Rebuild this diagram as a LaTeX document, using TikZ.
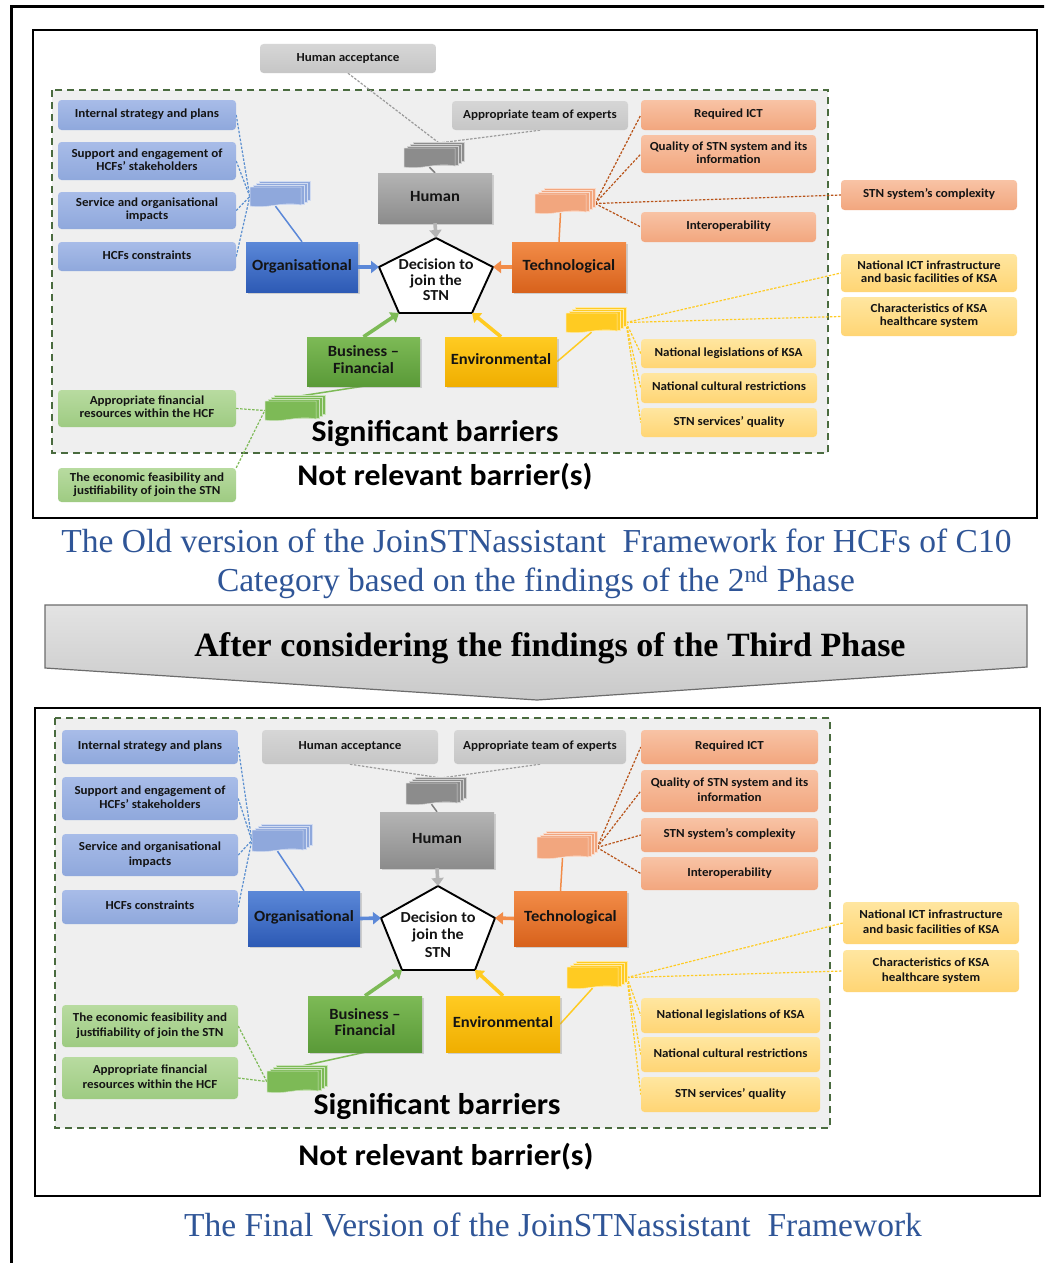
\documentclass[tikz,border=0pt]{standalone}
\usepackage{fontspec}
\setmainfont{Liberation Serif}
\newfontfamily\calf{Carlito}
\usetikzlibrary{arrows.meta,calc,shadows}
\pgfdeclarelayer{back}\pgfdeclarelayer{mid}\pgfsetlayers{back,mid,main}
\definecolor{txt}{HTML}{141414}
\definecolor{capblue}{HTML}{2F5597}
\definecolor{lb1}{HTML}{A8BCE8}\definecolor{lb2}{HTML}{8FA8DC}
\definecolor{mb1}{HTML}{5B88D8}\definecolor{mb2}{HTML}{2D5AB5}
\definecolor{lg1}{HTML}{D6D6D6}\definecolor{lg2}{HTML}{C6C6C6}
\definecolor{mg1}{HTML}{B4B4B4}\definecolor{mg2}{HTML}{8C8C8C}
\definecolor{lo1}{HTML}{F8C3A5}\definecolor{lo2}{HTML}{F2A67E}
\definecolor{mo1}{HTML}{F28C48}\definecolor{mo2}{HTML}{D8621C}
\definecolor{ly1}{HTML}{FFE6A0}\definecolor{ly2}{HTML}{FFD574}
\definecolor{my1}{HTML}{FFCB22}\definecolor{my2}{HTML}{F0AE00}
\definecolor{lgr1}{HTML}{B8DBA0}\definecolor{lgr2}{HTML}{9ECB82}
\definecolor{mgr1}{HTML}{7DBA56}\definecolor{mgr2}{HTML}{5A9A38}
\definecolor{dashg}{HTML}{4A6B3F}
\definecolor{areabg}{HTML}{EFEFEF}
\definecolor{dotgray}{HTML}{9A9A9A}
\definecolor{dotblue}{HTML}{5B8FD0}
\newcommand\tx[1]{\scalebox{1.06}[1]{\begin{tabular}{@{}c@{}}#1\end{tabular}}}
\newcommand\bx[7]{%
  \pgfmathsetmacro\cxx{(#3+#5)/2}\pgfmathsetmacro\cyy{(#4+#6)/2}%
  \pgfmathsetmacro\www{#5-#3}\pgfmathsetmacro\hhh{#6-#4}%
  \node[#1, minimum width=\www pt, minimum height=\hhh pt] (#2) at (\cxx,\cyy) {\tx{#7}};}
\newcommand\mystack[5]{%
  \foreach \k in {3,2,1}{\path[fill=#4, draw=white!60!#4, line width=0.5pt] (#2+3.2*\k,#3-1.8*\k) rectangle ++(51,#5);}
  \path[fill=#4, draw=white!60!#4, line width=0.5pt] (#2,#3) -- ++(51,0) -- ++(0,#5-1) .. controls +(-18,-4) and +(18,3) .. (#2,#3+#5) -- cycle;
  \node[inner sep=0pt, minimum width=51pt, minimum height=#5pt] (#1) at (#2+25.5,#3+#5/2) {};
  \coordinate (#1-r) at (#2+60,#3+#5/2);
  \coordinate (#1-t) at (#2+35,#3-5);
}
\tikzset{
  sbox/.style={rounded corners=3.5pt, inner sep=0pt, text=txt, font=\calf\bfseries\fontsize{12.3}{12.9}\selectfont},
  sboxB/.style={sbox, font=\calf\bfseries\fontsize{12.3}{14.8}\selectfont},
  lblue/.style={top color=lb1, bottom color=lb2},
  lgray/.style={top color=lg1, bottom color=lg2},
  lor/.style={top color=lo1, bottom color=lo2},
  lyel/.style={top color=ly1, bottom color=ly2},
  lgrn/.style={top color=lgr1, bottom color=lgr2},
  mbox/.style={inner sep=0pt, text=txt, font=\calf\bfseries\fontsize{15.6}{16.5}\selectfont,
    drop shadow={opacity=0.3, shadow xshift=1.5pt, shadow yshift=-1.5pt}},
  mblue/.style={mbox, top color=mb1, bottom color=mb2},
  mgray/.style={mbox, top color=mg1, bottom color=mg2},
  mor/.style={mbox, top color=mo1, bottom color=mo2},
  myel/.style={mbox, top color=my1, bottom color=my2},
  mgrn/.style={mbox, top color=mgr1, bottom color=mgr2},
  area/.style={fill=areabg, draw=dashg, line width=1.6pt, dash pattern=on 7pt off 5pt},
  frame/.style={draw=black, line width=2.6pt},
  dotc/.style={line width=1.2pt, dash pattern=on 2.5pt off 1.5pt},
  solc/.style={line width=1.5pt},
  bigarr/.style={line width=3.6pt, -{Triangle[length=8pt,width=12pt]}},
  pent/.style={draw=black, fill=white, line width=1.9pt, line join=miter},
  dect/.style={inner sep=0pt, text=txt, font=\calf\bfseries\fontsize{15.3}{15.6}\selectfont},
  sigt/.style={inner sep=0pt, text=black, font=\calf\bfseries\fontsize{30}{30}\selectfont},
  capt/.style={inner sep=0pt, text=capblue, font=\fontsize{33.5}{36}\selectfont},
}
\begin{document}
\begin{tikzpicture}[x=1pt,y=-1pt]
\useasboundingbox (0,0) rectangle (1044,1263);
\begin{pgfonlayer}{back}
\fill[white] (0,0) rectangle (1044,1263);
\end{pgfonlayer}
\clip (0,0) rectangle (1044,1263);
\draw[line width=3pt] (11,7) rectangle (1100,1300);

% ================= PANEL 1 =================
\draw[frame] (33,30) rectangle (1037,518);
\begin{pgfonlayer}{back}
\path[area] (52,90) rectangle (828,453);
\end{pgfonlayer}

\bx{sbox,lgray}{ha1}{260}{44}{436}{73}{Human acceptance}
\bx{sbox,lgray}{at1}{452}{101}{628}{130}{Appropriate team of experts}
\bx{sbox,lblue}{b11}{58}{100}{236}{130}{Internal strategy and plans}
\bx{sbox,lblue}{b12}{58}{142}{236}{180}{Support and engagement of\\HCFs’ stakeholders}
\bx{sbox,lblue}{b13}{58}{192}{236}{229}{Service and organisational\\impacts}
\bx{sbox,lblue}{b14}{58}{242}{236}{271}{HCFs constraints}
\bx{sbox,lor}{o11}{641}{100}{816}{130}{Required ICT}
\bx{sbox,lor}{o12}{641}{135}{816}{173}{Quality of STN system and its\\information}
\bx{sbox,lor}{o13}{641}{212}{816}{242}{Interoperability}
\bx{sbox,lor}{o14}{841}{180}{1017}{210}{STN system’s complexity}
\bx{sbox,lyel}{y11}{841}{254}{1017}{292}{National ICT infrastructure\\and basic facilities of KSA}
\bx{sbox,lyel}{y12}{841}{297}{1017}{336}{Characteristics of KSA\\healthcare system}
\bx{sbox,lyel}{y13}{641}{339}{816}{368}{National legislations of KSA}
\bx{sbox,lyel}{y14}{641}{373}{817}{403}{National cultural restrictions}
\bx{sbox,lyel}{y15}{641}{408}{817}{437}{STN services’ quality}
\bx{sbox,lgrn}{g11}{58}{390}{236}{427}{Appropriate financial\\resources within the HCF}
\bx{sbox,lgrn}{g12}{58}{468}{236}{502}{The economic feasibility and\\justifiability of join the STN}

\bx{mblue}{org1}{246}{242}{358}{292}{Organisational}
\bx{mgray}{hum1}{378}{173}{492}{223}{Human}
\bx{mor}{tech1}{512}{242}{626}{292}{Technological}
\bx{myel}{env1}{445}{337}{557}{386}{Environmental}
\bx{mgrn}{bf1}{307}{337}{420}{386}{Business –\\Financial}

\mystack{bs1}{250}{187}{lb2}{19}
\mystack{hs1}{404}{148}{mg2}{19}
\mystack{os1}{535}{194}{lo2}{19}
\mystack{ys1}{566}{313}{my1}{19}
\mystack{fs1}{265}{401}{mgr1}{19}

\coordinate (p1t) at (436,238);
\coordinate (p1r) at (493,267);
\coordinate (p1br) at (472,313);
\coordinate (p1bl) at (399,313);
\coordinate (p1l) at (379,267);
\draw[pent] (p1t) -- (p1r) -- (p1br) -- (p1bl) -- (p1l) -- cycle;
\node[dect] (d1) at (436,282) {\tx{Decision to\\join the\\STN}};

\begin{pgfonlayer}{mid}
\foreach \n in {b11,b12,b13,b14} \draw[dotc, draw=dotblue] (\n.east) -- (bs1.west);
\draw[solc, draw=mb1] (bs1.south) -- (org1.north);
\draw[dotc, draw=dotgray] (ha1.south) -- (hs1-t);
\draw[dotc, draw=dotgray] (at1.south) -- (hs1-t);
\draw[solc, draw=gray] (hs1.south) -- (hum1.north);
\foreach \n in {o11,o12,o13,o14} \draw[dotc, draw=mo2!85!black] (os1-r) -- (\n.west);
\draw[solc, draw=mo1] (os1.south) -- ($(tech1.north)+(-10,0)$);
\foreach \n in {y11,y12,y13,y14,y15} \draw[dotc, draw=my1] (ys1-r) -- (\n.west);
\draw[solc, draw=my1] (env1.east) -- (ys1.south);
\draw[dotc, draw=mgr1] (g11.east) -- (fs1.west);
\draw[dotc, draw=mgr1] (g12.north east) -- (fs1.west);
\draw[solc, draw=mgr1] (bf1.south) -- (fs1-t);
\end{pgfonlayer}

\draw[bigarr, draw=mb1] (org1.east) -- (p1l);
\draw[bigarr, draw=mo1] (tech1.west) -- (p1r);
\draw[bigarr, draw=mg1] (hum1.south) -- (p1t);
\draw[bigarr, draw=mgr1] (bf1.north) -- (p1bl);
\draw[bigarr, draw=my1] (env1.north) -- (p1br);

\node[sigt] (sig1) at (435,435) {\tx{Significant barriers}};
\node[sigt] (nr1) at (445,479) {\tx{Not relevant barrier(s)}};

% captions and arrow
\node[capt] (cap1a) at (536.5,541) {The Old version of the JoinSTNassistant\ \ Framework\ for HCFs of C10};
\node[capt] (cap1b) at (536,582) {Category\ based on the findings\ of the 2\textsuperscript{nd} Phase};
\path[draw=gray!85!black, line width=1.2pt, top color=gray!22, bottom color=gray!42]
  (45,605) -- (1027,605) -- (1027,667) -- (537,700) -- (45,668) -- cycle;
\node[inner sep=0pt, font=\bfseries\fontsize{34}{36}\selectfont] (after) at (550,648) {After considering the findings of the Third\ Phase};

% ================= PANEL 2 =================
\draw[frame] (35,708) rectangle (1040,1196);
\begin{pgfonlayer}{back}
\path[area] (55,718) rectangle (830,1128);
\end{pgfonlayer}

\bx{sboxB,lgray}{ha2}{262}{730}{438}{764}{Human acceptance}
\bx{sboxB,lgray}{at2}{454}{730}{626}{764}{Appropriate team of experts}
\bx{sboxB,lblue}{b21}{62}{730}{238}{764}{Internal strategy and plans}
\bx{sboxB,lblue}{b22}{62}{777}{238}{820}{Support and engagement of\\HCFs’ stakeholders}
\bx{sboxB,lblue}{b23}{62}{834}{238}{876}{Service and organisational\\impacts}
\bx{sboxB,lblue}{b24}{62}{890}{238}{924}{HCFs constraints}
\bx{sboxB,lor}{o21}{641}{730}{818}{764}{Required ICT}
\bx{sboxB,lor}{o22}{641}{770}{818}{812}{Quality of STN system and its\\information}
\bx{sboxB,lor}{o23}{641}{818}{818}{852}{STN system’s complexity}
\bx{sboxB,lor}{o24}{641}{857}{818}{890}{Interoperability}
\bx{sboxB,lyel}{y21}{843}{902}{1019}{944}{National ICT infrastructure\\and basic facilities of KSA}
\bx{sboxB,lyel}{y22}{843}{950}{1019}{992}{Characteristics of KSA\\healthcare system}
\bx{sboxB,lyel}{y23}{641}{998}{820}{1033}{National legislations of KSA}
\bx{sboxB,lyel}{y24}{641}{1037}{820}{1072}{National cultural restrictions}
\bx{sboxB,lyel}{y25}{641}{1077}{820}{1112}{STN services’ quality}
\bx{sboxB,lgrn}{g21}{62}{1005}{238}{1047}{The economic feasibility and\\justifiability of join the STN}
\bx{sboxB,lgrn}{g22}{62}{1057}{238}{1099}{Appropriate financial\\resources within the HCF}

\bx{mblue}{org2}{248}{891}{360}{946}{Organisational}
\bx{mgray}{hum2}{380}{812}{494}{868}{Human}
\bx{mor}{tech2}{514}{891}{627}{946}{Technological}
\bx{myel}{env2}{446}{996}{560}{1052}{Environmental}
\bx{mgrn}{bf2}{308}{996}{422}{1052}{Business –\\Financial}

\mystack{bs2}{252}{830}{lb2}{21}
\mystack{hs2}{406}{783}{mg2}{21}
\mystack{os2}{537}{837}{lo2}{21}
\mystack{ys2}{567}{967}{my1}{21}
\mystack{fs2}{267}{1071}{mgr1}{21}

\coordinate (p2t) at (438,886);
\coordinate (p2r) at (495,918);
\coordinate (p2br) at (475,970);
\coordinate (p2bl) at (402,970);
\coordinate (p2l) at (381,918);
\draw[pent] (p2t) -- (p2r) -- (p2br) -- (p2bl) -- (p2l) -- cycle;
\node[dect, font=\calf\bfseries\fontsize{15.3}{17.5}\selectfont] (d2) at (438,936) {\tx{Decision to\\join the\\STN}};

\begin{pgfonlayer}{mid}
\foreach \n in {b21,b22,b23,b24} \draw[dotc, draw=dotblue] (\n.east) -- (bs2.west);
\draw[solc, draw=mb1] (bs2.south) -- (org2.north);
\draw[dotc, draw=dotgray] (ha2.south) -- (hs2-t);
\draw[dotc, draw=dotgray] (at2.south) -- (hs2-t);
\draw[solc, draw=gray] (hs2.south) -- (hum2.north);
\foreach \n in {o21,o22,o23,o24} \draw[dotc, draw=mo2!85!black] (os2-r) -- (\n.west);
\draw[solc, draw=mo1] (os2.south) -- ($(tech2.north)+(-10,0)$);
\foreach \n in {y21,y22,y23,y24,y25} \draw[dotc, draw=my1] (ys2-r) -- (\n.west);
\draw[solc, draw=my1] (env2.east) -- (ys2.south);
\foreach \n in {g21,g22} \draw[dotc, draw=mgr1] (\n.east) -- (fs2.west);
\draw[solc, draw=mgr1] (bf2.south) -- (fs2-t);
\end{pgfonlayer}

\draw[bigarr, draw=mb1] (org2.east) -- (p2l);
\draw[bigarr, draw=mo1] (tech2.west) -- (p2r);
\draw[bigarr, draw=mg1] (hum2.south) -- (p2t);
\draw[bigarr, draw=mgr1] (bf2.north) -- (p2bl);
\draw[bigarr, draw=my1] (env2.north) -- (p2br);

\node[sigt] (sig2) at (437,1108) {\tx{Significant barriers}};
\node[sigt] (nr2) at (446,1159) {\tx{Not relevant barrier(s)}};

\node[capt] (cap2) at (553,1225) {The Final Version of the JoinSTNassistant\ \ Framework};
\end{tikzpicture}
\end{document}
